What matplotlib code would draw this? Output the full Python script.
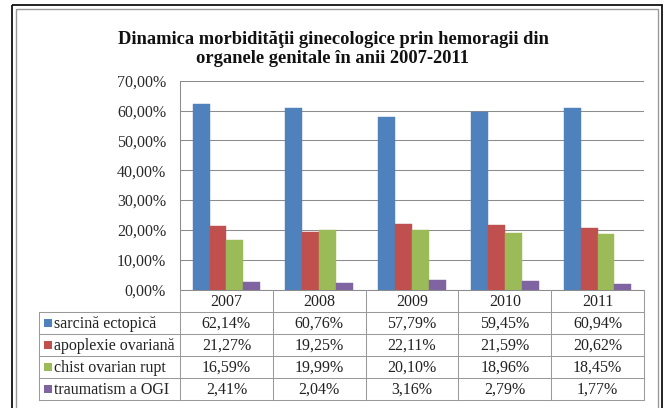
import matplotlib
matplotlib.use("Agg")
import matplotlib.pyplot as plt
from matplotlib.patches import Rectangle
from matplotlib.ticker import FuncFormatter
import numpy as np

plt.rcParams['font.family'] = ['Liberation Serif', 'DejaVu Serif']

years = ["2007", "2008", "2009", "2010", "2011"]
series_names = ["sarcină ectopică", "apoplexie ovariană", "chist ovarian rupt", "traumatism a OGI"]
sarcina = [62.14, 60.76, 57.79, 59.45, 60.94]
apoplexie = [21.27, 19.25, 22.11, 21.59, 20.62]
chist = [16.59, 19.99, 20.10, 18.96, 18.45]
traumatism = [2.41, 2.04, 3.16, 2.79, 1.77]
title = "Dinamica morbidităţii ginecologice prin hemoragii din\norganele genitale în anii 2007-2011"

series = [sarcina, apoplexie, chist, traumatism]
colors = ["#4F81BD", "#C0504D", "#9BBB59", "#8064A2"]

W, H = 665, 408
fig = plt.figure(figsize=(W / 100, H / 100), dpi=100)

# plot area in pixel coords
pl, pr, pt, pb = 180, 644, 80.7, 289.5
ax = fig.add_axes([pl / W, (H - pb) / H, (pr - pl) / W, (pb - pt) / H])

n = len(years)
bw = 1 / 5.5
x = np.arange(n)
for k, (vals, c) in enumerate(zip(series, colors)):
    ax.bar(x + (k - 1.5) * bw, [v / 100 for v in vals], width=bw, color=c,
           edgecolor=c, linewidth=0.3, zorder=3)

ax.set_xlim(-0.5, n - 0.5)
ax.set_ylim(0, 0.70)
ax.set_yticks(np.arange(0, 0.701, 0.10))
ax.yaxis.set_major_formatter(FuncFormatter(lambda v, p: f"{v*100:.2f}%".replace('.', ',')))
ax.set_xticks([])
ax.tick_params(axis='y', length=0, pad=10, labelsize=11.5, labelcolor='#2a2a2a')
ax.grid(axis='y', color='#8c8c8c', linewidth=0.75, zorder=0)
for s in ['top', 'right']:
    ax.spines[s].set_visible(False)
ax.spines['left'].set_color('#8c8c8c')
ax.spines['bottom'].set_color('#8c8c8c')
ax.spines['left'].set_linewidth(0.75)
ax.spines['bottom'].set_linewidth(0.75)

# overlay in pixel coordinates
ov = fig.add_axes([0, 0, 1, 1])
ov.set_xlim(0, W)
ov.set_ylim(H, 0)
ov.axis('off')
ov.patch.set_alpha(0)

# frame
ov.add_patch(Rectangle((12, 5), 650, 420, fill=False, edgecolor='#111111', linewidth=1.3))
ov.add_patch(Rectangle((15.5, 9), 642.5, 420, fill=False, edgecolor='#9a9a9a', linewidth=1.0))

# title
ov.text(333, 49, title, ha='center', va='center', fontsize=13.3, fontweight='bold',
        linespacing=1.22, color='#111111')

# table
tcol = '#9a9a9a'
col_w = (pr - pl) / n
row_top = pb
header_bot = 312
row_h = 22
table_bot = header_bot + row_h * len(series)
leg_left = 39

for j in range(n + 1):
    xx = pl + j * col_w
    ov.plot([xx, xx], [row_top, table_bot], color=tcol, linewidth=0.75)
ov.plot([leg_left, leg_left], [header_bot, table_bot], color=tcol, linewidth=0.75)
for i in range(len(series) + 1):
    yy = header_bot + i * row_h
    ov.plot([leg_left, pr], [yy, yy], color=tcol, linewidth=0.75)

for j, yr in enumerate(years):
    ov.text(pl + (j + 0.5) * col_w, (row_top + header_bot) / 2 + 1, yr,
            ha='center', va='center', fontsize=11.5, color='#222222')

for i, (name, vals, c) in enumerate(zip(series_names, series, colors)):
    yc = header_bot + (i + 0.5) * row_h
    ov.add_patch(Rectangle((44, yc - 4), 8, 8, facecolor=c, edgecolor='none'))
    ov.text(54, yc + 0.5, name, ha='left', va='center', fontsize=11.5, color='#222222')
    for j, v in enumerate(vals):
        ov.text(pl + (j + 0.5) * col_w, yc + 0.5, f"{v:.2f}%".replace('.', ','),
                ha='center', va='center', fontsize=11.5, color='#222222')

fig.savefig("out.png", dpi=100)
